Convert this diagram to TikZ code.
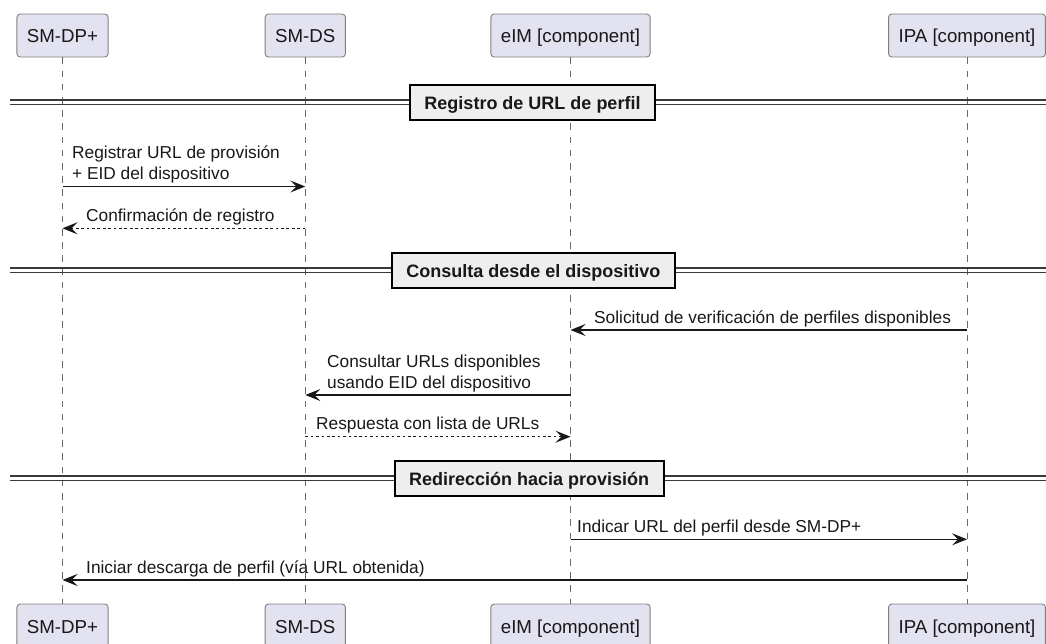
\documentclass[tikz,border=0pt]{standalone}
\usepackage{fontspec}
\setmainfont{Liberation Sans}
\usetikzlibrary{arrows.meta}

\definecolor{partfill}{HTML}{E2E2F0}
\definecolor{partline}{HTML}{808080}
\definecolor{ink}{HTML}{181818}
\definecolor{lifeln}{HTML}{6A6A6A}
\definecolor{divfill}{HTML}{EEEEEE}
\definecolor{divline}{HTML}{3A3A3A}

\begin{document}
\begin{tikzpicture}[x=1pt,y=-1pt,
  participant/.style={draw=partline, fill=partfill, line width=0.9pt,
    rounded corners=3.3pt, minimum height=43pt, inner xsep=10pt, inner ysep=0pt,
    text height=15pt, text depth=0pt, text=ink, font=\fontsize{18.7}{22}\selectfont},
  lifeline/.style={draw=lifeln, line width=0.8pt, dash pattern=on 6.6pt off 6.6pt},
  divrule/.style={draw=divline, line width=1.3pt},
  divbox/.style={draw=black, fill=divfill, line width=2pt, minimum height=35pt,
    inner xsep=14.5pt, inner ysep=0pt, text height=14pt, text depth=0pt,
    text=ink, font=\fontsize{18}{22}\selectfont\bfseries},
  msg/.style={draw=ink, line width=1.3pt, -{Stealth[length=15pt,width=12pt,inset=6pt]}},
  reply/.style={msg, dash pattern=on 2.7pt off 2.7pt},
  lbl/.style={anchor=base west, inner sep=0pt, text=ink, font=\fontsize{17.3}{21}\selectfont}]

\useasboundingbox (0,0) rectangle (1046,644);
\clip (0,0) rectangle (1046,644);

% participants, top and bottom
\node[participant] (dp)  at (62.5,35.5)  {SM-DP+};
\node[participant] (ds)  at (305.3,35.5) {SM-DS};
\node[participant] (eim) at (570.5,35.5) {eIM [component]};
\node[participant] (ipa) at (967,35.5)   {IPA [component]};

\node[participant] (dpb)  at (62.5,625.5)  {SM-DP+};
\node[participant] (dsb)  at (305.3,625.5) {SM-DS};
\node[participant] (eimb) at (570.5,625.5) {eIM [component]};
\node[participant] (ipab) at (967,625.5)   {IPA [component]};

% lifelines
\draw[lifeline] (dp.south)  -- (dpb.north);
\draw[lifeline] (ds.south)  -- (dsb.north);
\draw[lifeline] (eim.south) -- (eimb.north);
\draw[lifeline] (ipa.south) -- (ipab.north);

% section dividers
\coordinate (s1l) at (10,102.3);  \coordinate (s1r) at (1046,102.3);
\coordinate (s2l) at (10,270.3);  \coordinate (s2r) at (1046,270.3);
\coordinate (s3l) at (10,478.3);  \coordinate (s3r) at (1046,478.3);
\foreach \l/\r in {s1l/s1r, s2l/s2r, s3l/s3r}{
  \draw[divrule] ([yshift=2.35pt]\l) -- ([yshift=2.35pt]\r);
  \draw[divrule] ([yshift=-2.35pt]\l) -- ([yshift=-2.35pt]\r);
}
\node[divbox] (s1) at (532.5,102.3) {Registro de URL de perfil};
\node[divbox] (s2) at (533.3,270.3) {Consulta desde el dispositivo};
\node[divbox] (s3) at (529.2,478.3) {Redirección hacia provisión};

% messages
\draw[msg] (dp |- 0,186.5) -- (ds |- 0,186.5);
\node[lbl] (t1) at (72,179.5)
  {\begin{tabular}[b]{@{}l@{}}Registrar URL de provisión\\+ EID del dispositivo\end{tabular}};

\draw[reply] (ds |- 0,228.3) -- (dp |- 0,228.3);
\node[lbl] (t2) at (86,221.3) {Confirmación de registro};

\draw[msg] (ipa |- 0,330) -- (eim |- 0,330);
\node[lbl] (t3) at (594,323) {Solicitud de verificación de perfiles disponibles};

\draw[msg] (eim |- 0,395) -- (ds |- 0,395);
\node[lbl] (t4) at (327,388)
  {\begin{tabular}[b]{@{}l@{}}Consultar URLs disponibles\\usando EID del dispositivo\end{tabular}};

\draw[reply] (ds |- 0,436.7) -- (eim |- 0,436.7);
\node[lbl] (t5) at (316,429.7) {Respuesta con lista de URLs};

\draw[msg] (eim |- 0,539.3) -- (ipa |- 0,539.3);
\node[lbl] (t6) at (577,532.3) {Indicar URL del perfil desde SM-DP+};

\draw[msg] (ipa |- 0,580) -- (dp |- 0,580);
\node[lbl] (t7) at (86,573) {Iniciar descarga de perfil (vía URL obtenida)};
\end{tikzpicture}
\end{document}
